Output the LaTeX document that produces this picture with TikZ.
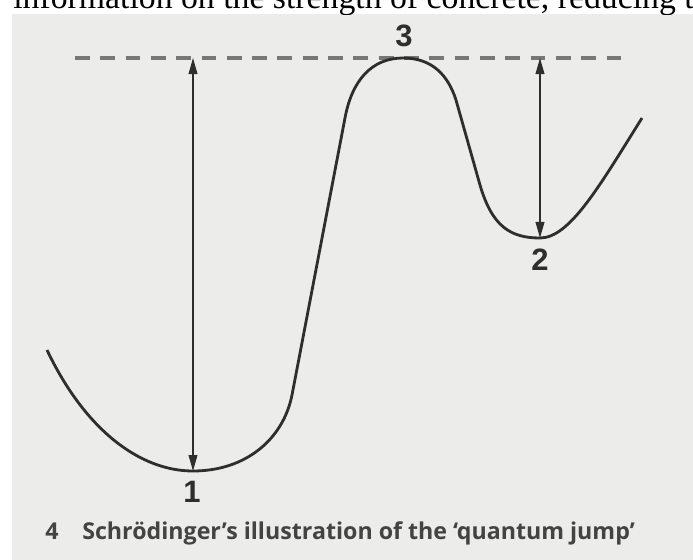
\documentclass[tikz,border=0pt]{standalone}
\usepackage{fontspec}
\setmainfont{Liberation Serif}
\newfontfamily\labelfont{Liberation Sans}
\newfontfamily\captfont{Open Sans}
\usetikzlibrary{arrows.meta,calc,positioning}
\definecolor{paper}{HTML}{ECECEB}
\definecolor{ink}{HTML}{2E2E2E}
\tikzset{
    mycurve/.style={line width=2pt,draw=ink,line join=round},
    mylevel/.style={line width=2.2pt,draw=ink!65,dash pattern=on 10.5pt off 7.5pt},
    myarrow/.style={line width=0.9pt,draw=ink,{Triangle[length=4mm,width=2.2mm]}-{Triangle[length=4mm,width=2.2mm]}},
    mylabel/.style={font=\labelfont\bfseries\fontsize{22}{22}\selectfont,text=ink,inner sep=0pt},
    mycapt/.style={anchor=base west,inner sep=0pt,text=ink!90,font=\captfont\bfseries\fontsize{16.5}{18}\selectfont}
}
\begin{document}
\begin{tikzpicture}[x=0.025cm,y=-0.025cm]
  \useasboundingbox (0,0) rectangle (693,560);
  \fill[paper] (12,14) rectangle (693,560);
  % line of the page above, cut off
  \begin{scope}
    \clip (0,0) rectangle (693,14);
    \node[anchor=base west,inner sep=0pt,font=\fontsize{24}{24}\selectfont] (prevline) at (13,8)
      {information on the strength of concrete, reducing the};
  \end{scope}
  % level of the barrier
  \coordinate (lvlL) at (75,58);
  \coordinate (lvlR) at (630,58);
  \coordinate (top1) at (193,58);
  \coordinate (top2) at (540,58);
  \draw[mylevel] (lvlL) -- (lvlR);
  % potential curve
  \draw[mycurve] (47,350) .. controls (85,430) and (140,471) .. (193,471) coordinate (min1)
    .. controls (245,471) and (283,440) .. (292,395)
    -- (345,118)
    .. controls (352,80) and (372,58) .. (403,58) coordinate (peak)
    .. controls (432,58) and (448,75) .. (456,100)
    -- (480,185)
    .. controls (492,226) and (510,238) .. (540,238) coordinate (min2)
    .. controls (570,238) and (600,185) .. (642,118);
  \draw[myarrow] (top1) -- (min1);
  \draw[myarrow] (top2) -- (min2);
  \node[mylabel] (lab3) at (404,36) {3};
  \node[mylabel] (lab1) at (192,492) {1};
  \node[mylabel] (lab2) at (540,260) {2};
  % caption
  \node[mycapt] (captnum) at (45,539) {4};
  \node[mycapt] (capttext) at (82,539) {Schrödinger’s illustration of the ‘quantum jump’};
\end{tikzpicture}
\end{document}
